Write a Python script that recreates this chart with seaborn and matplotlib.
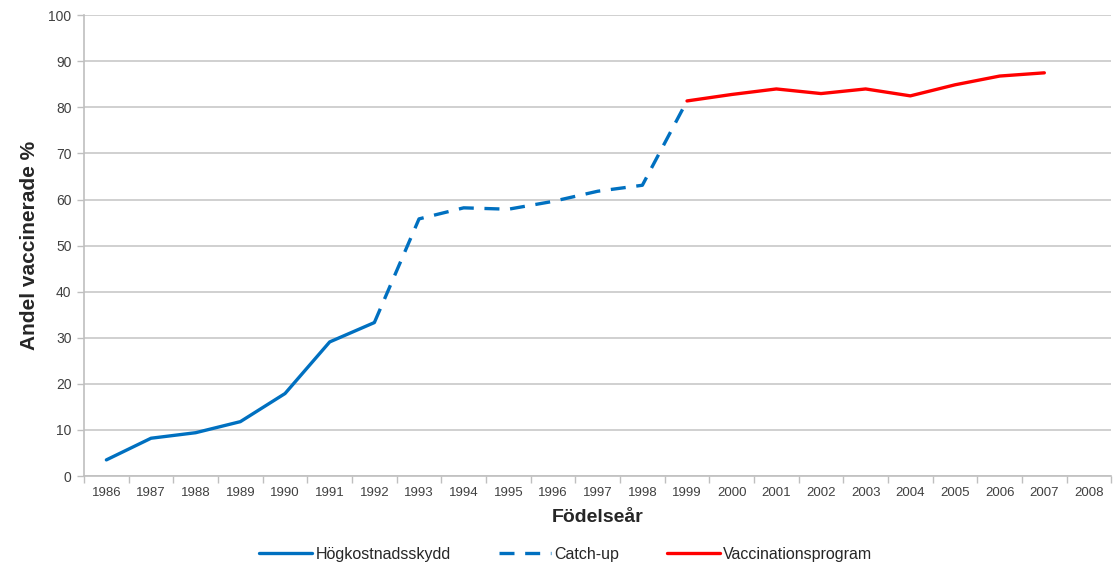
import pandas as pd
import matplotlib
matplotlib.use("Agg")
import matplotlib.pyplot as plt
import seaborn as sns
from matplotlib.ticker import MultipleLocator, FixedLocator

# Data
years_hk = [1986, 1987, 1988, 1989, 1990, 1991, 1992]
vals_hk = [3.5, 8.2, 9.4, 11.8, 17.9, 29.1, 33.3]

years_cu = [1992, 1993, 1994, 1995, 1996, 1997, 1998, 1999]
vals_cu = [33.3, 55.8, 58.2, 57.9, 59.6, 61.8, 63.1, 81.4]

years_vp = [1999, 2000, 2001, 2002, 2003, 2004, 2005, 2006, 2007]
vals_vp = [81.4, 82.8, 84.0, 83.0, 84.0, 82.5, 84.9, 86.8, 87.5]

all_years = list(range(1986, 2009))

sns.set_theme(style="white")
plt.rcParams["font.family"] = ["Liberation Sans", "DejaVu Sans"]

blue = "#0070C0"
red = "#FF0000"

fig = plt.figure(figsize=(11.13, 5.64), dpi=100)
ax = fig.add_axes([0.0755, 0.156, 0.923, 0.817])

df_hk = pd.DataFrame({"year": years_hk, "val": vals_hk})
df_cu = pd.DataFrame({"year": years_cu, "val": vals_cu})
df_vp = pd.DataFrame({"year": years_vp, "val": vals_vp})

sns.lineplot(data=df_hk, x="year", y="val", ax=ax, color=blue, lw=2.4,
             label="Högkostnadsskydd")
sns.lineplot(data=df_cu, x="year", y="val", ax=ax, color=blue, lw=2.4,
             label="Catch-up", dashes=False)
ax.lines[-1].set_dashes((4.5, 3.2))
sns.lineplot(data=df_vp, x="year", y="val", ax=ax, color=red, lw=2.4,
             label="Vaccinationsprogram")

ax.set_xlim(1985.5, 2008.5)
ax.set_ylim(0, 100)
ax.yaxis.set_major_locator(MultipleLocator(10))
ax.grid(axis="y", color="#c8c8c8", lw=1.2)
ax.set_axisbelow(True)

# category labels with tick marks between categories
ax.xaxis.set_major_locator(FixedLocator(all_years))
ax.set_xticklabels([str(y) for y in all_years])
ax.xaxis.set_minor_locator(FixedLocator([y - 0.5 for y in all_years] + [2008.5]))
ax.tick_params(axis="x", which="major", length=0, pad=8, labelsize=9.5,
               labelcolor="#404040")
ax.tick_params(axis="x", which="minor", length=5, width=1, color="#bfbfbf",
               bottom=True)
ax.tick_params(axis="y", which="major", length=5, width=1, color="#bfbfbf",
               left=True, labelsize=10, labelcolor="#404040", pad=4)

for side in ["top", "right"]:
    ax.spines[side].set_visible(False)
for side in ["left", "bottom"]:
    ax.spines[side].set_color("#bfbfbf")
    ax.spines[side].set_linewidth(1.2)

ax.set_xlabel("Födelseår", fontsize=14, fontweight="bold", labelpad=7)
ax.set_ylabel("Andel vaccinerade %", fontsize=15, fontweight="bold", labelpad=7)

ax.legend(loc="center", bbox_to_anchor=(0.469, -0.17), ncol=3, frameon=False,
          fontsize=11.5, handlelength=3.3, handletextpad=0.2, columnspacing=3.0)

fig.savefig("out.png", dpi=100)
